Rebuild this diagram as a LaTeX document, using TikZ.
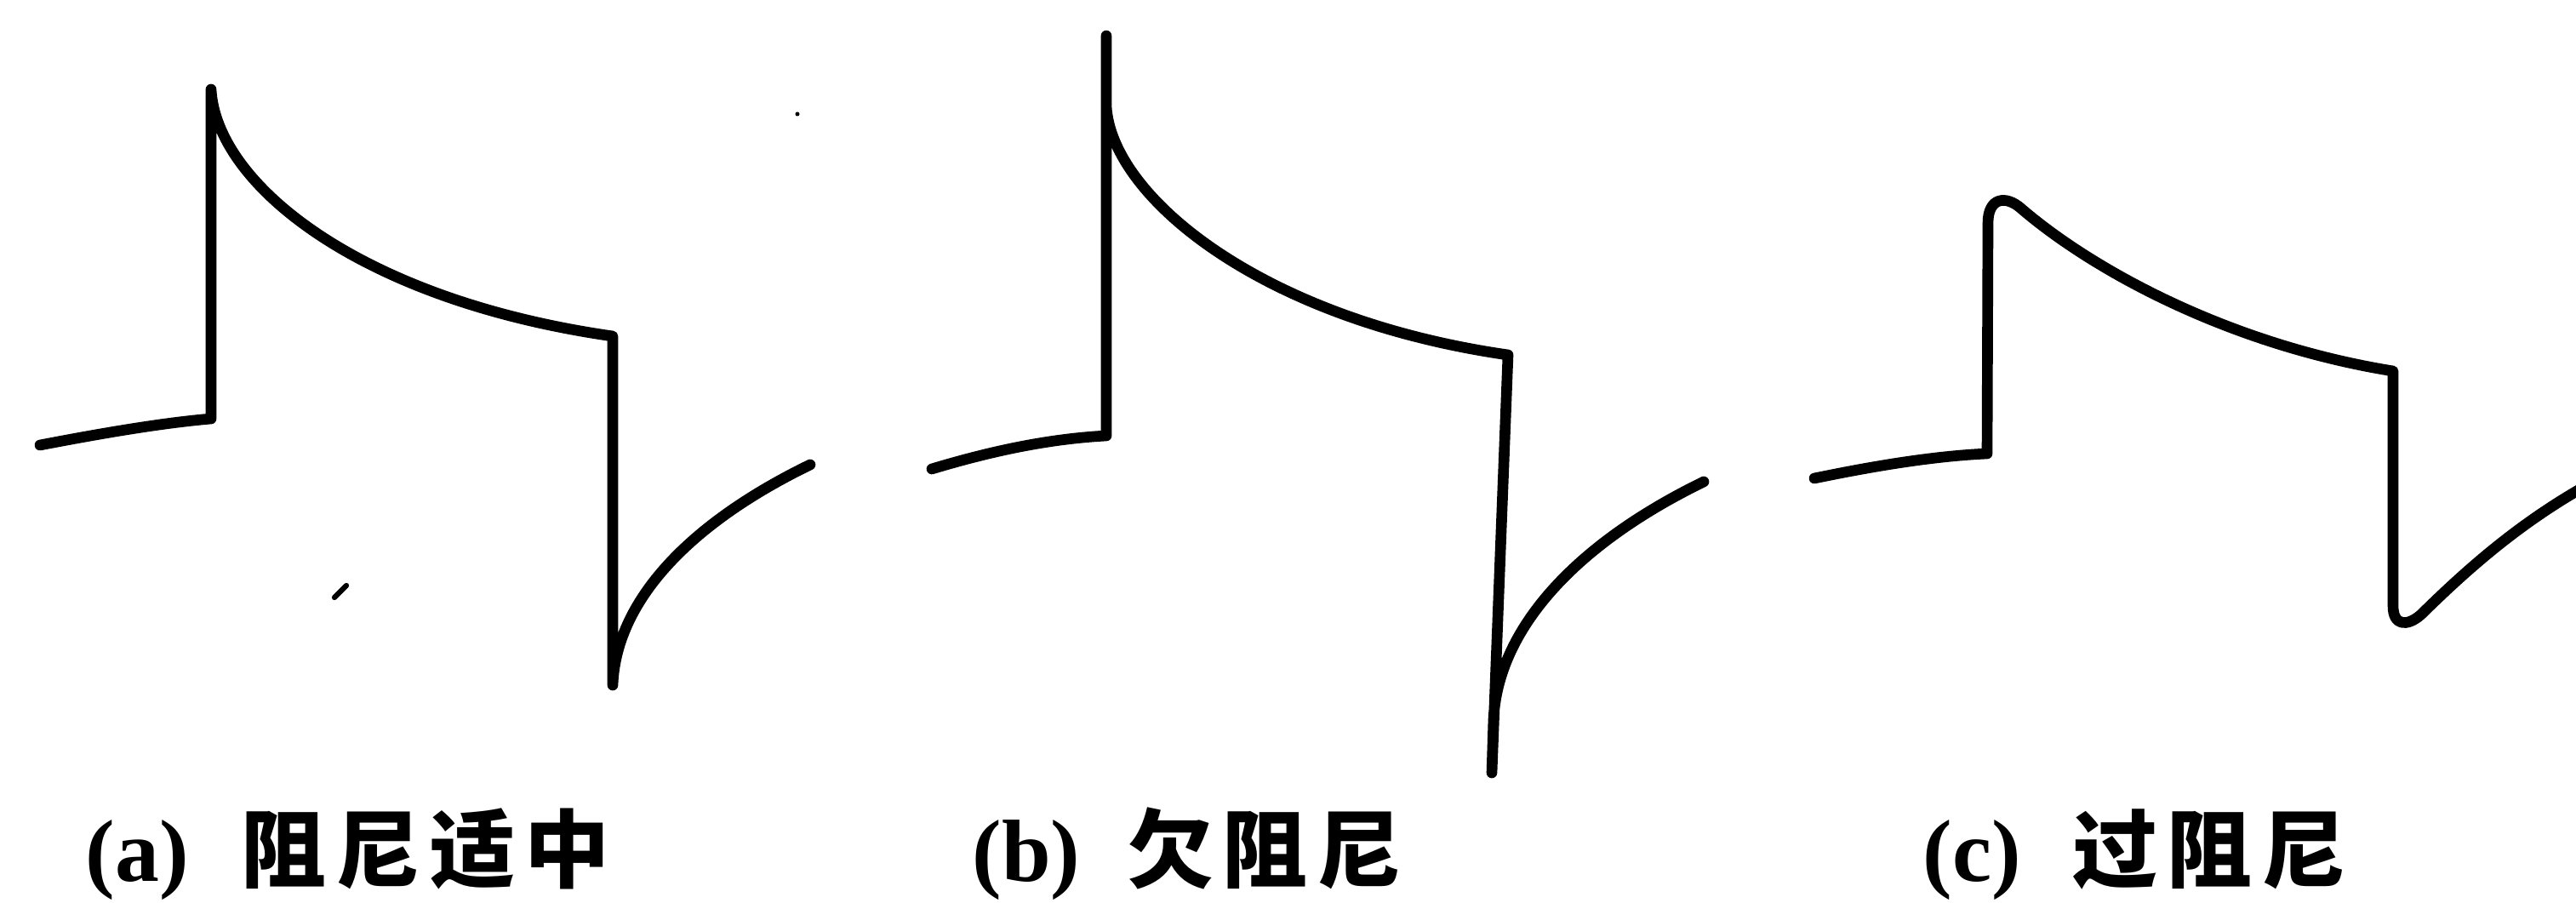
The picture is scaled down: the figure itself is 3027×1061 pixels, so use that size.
\documentclass[tikz,border=0pt]{standalone}
\usepackage{fontspec}
\newfontfamily\cjk{Noto Sans CJK SC}
\newfontfamily\lat{Liberation Serif}
\begin{document}
\begin{tikzpicture}[x=0.01cm,y=-0.01cm,
  wave/.style={line width=3.6pt, line join=round, line cap=round},
  lbl/.style={anchor=base west, inner sep=0pt, font=\lat\bfseries\fontsize{29.5pt}{30pt}\selectfont},
  cjklbl/.style={anchor=base west, inner sep=0pt, font=\cjk\bfseries\fontsize{28.45pt}{30pt}\selectfont}]
\useasboundingbox (0,0) rectangle (3027,1061);
\clip (0,0) rectangle (3027,1061);

% (a) moderate damping
\draw[wave] (47,523) .. controls (120,509) and (190,497) .. (248,492)
  -- (248,105)
  .. controls (254,215) and (420,352) .. (720,395)
  -- (720,805)
  .. controls (724,700) and (820,610) .. (952,546);

% (b) underdamped
\draw[wave] (1095,551) .. controls (1155,533) and (1225,516) .. (1300,512)
  -- (1300,42) -- (1300,125)
  .. controls (1306,230) and (1480,375) .. (1772,417)
  -- (1753,908) -- (1755,845)
  .. controls (1760,740) and (1850,640) .. (2002,566);

% (c) overdamped
\draw[wave] (2132,562) .. controls (2200,548) and (2270,536) .. (2335,533)
  -- (2336,262)
  .. controls (2336,232) and (2357,229) .. (2375,245)
  .. controls (2460,318) and (2620,405) .. (2812,436)
  -- (2812,712)
  .. controls (2812,735) and (2828,737) .. (2845,722)
  .. controls (2900,668) and (2960,615) .. (3040,570);

% scan marks
\draw[line width=1.8pt, line cap=round] (393,702) -- (407,688);
\fill (937,134) circle (2.5);

% labels
\node[lbl] (la) at (100,1035) {(a)};
\node[cjklbl] (lat) at (283,1035) {阻\kern3.1pt 尼\kern3.1pt 适\kern3.1pt 中};
\node[lbl] (lb) at (1142,1035) {(b)};
\node[cjklbl] (lbt) at (1325,1035) {欠\kern3.1pt 阻\kern3.1pt 尼};
\node[lbl] (lc) at (2259,1035) {(c)};
\node[cjklbl] (lct) at (2435,1035) {过\kern3.1pt 阻\kern3.1pt 尼};
\end{tikzpicture}
\end{document}
